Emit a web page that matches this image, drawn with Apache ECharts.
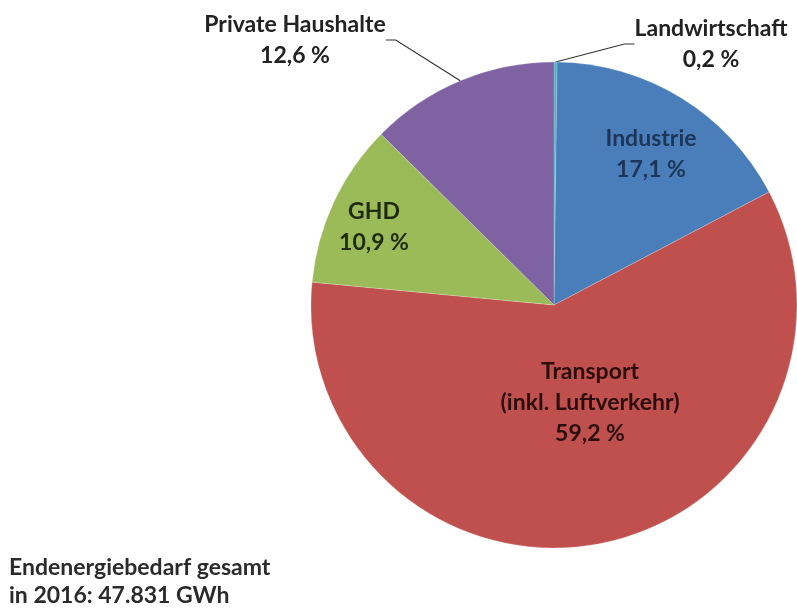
<!DOCTYPE html>
<html>
<head>
<meta charset="utf-8">
<script src="https://cdn.jsdelivr.net/npm/echarts@6/dist/echarts.min.js"></script>
<style>
  html, body { margin: 0; padding: 0; background: #fff; }
  #chart { width: 797px; height: 609px; }
</style>
</head>
<body>
<div id="chart"></div>
<script>
// Final energy demand by sector, 2016 (shares in %)
const sectors = ['Landwirtschaft', 'Industrie', 'Transport\n(inkl. Luftverkehr)', 'GHD', 'Private Haushalte'];
const shares = [0.2, 17.1, 59.2, 10.9, 12.6];
const sectorColors = ['#4BACC6', '#4A7EBB', '#C0504D', '#9BBB59', '#7F62A1'];
const labelColors = ['#222222', '#1D3557', '#2a0d0d', '#1f2a10', '#222222'];
// label block centres (px) for each sector
const labelSpots = [[711, 44], [651, 154], [590, 403], [374, 227], [295, 40]];
const totalText = 'Endenergiebedarf gesamt\nin 2016: 47.831 GWh';

const fontFam = 'Lato, "Open Sans", sans-serif';

const chart = echarts.init(document.getElementById('chart'));
chart.setOption({
  animation: false,
  backgroundColor: '#ffffff',
  title: {
    text: totalText,
    left: 4,
    top: 549,
    textStyle: {
      fontFamily: fontFam,
      fontSize: 23,
      fontWeight: 'bold',
      color: '#2b2b2b',
      lineHeight: 28
    }
  },
  series: [{
    type: 'pie',
    center: [554, 305],
    radius: [0, 243],
    startAngle: 90,
    clockwise: true,
    avoidLabelOverlap: false,
    data: sectors.map((name, i) => ({
      name: name,
      value: shares[i],
      itemStyle: { color: sectorColors[i] },
      label: {
        show: true,
        position: (i === 0 || i === 4) ? 'outside' : 'inside',
        color: labelColors[i]
      },
      labelLine: { show: i === 0 || i === 4 }
    })),
    itemStyle: { borderColor: 'rgba(255,255,255,0.35)', borderWidth: 0.6 },
    label: {
      formatter: p => p.name + '\n' + p.value.toFixed(1).replace('.', ',') + ' %',
      fontFamily: fontFam,
      fontSize: 23,
      fontWeight: 'bold',
      lineHeight: 31,
      align: 'center'
    },
    labelLine: {
      lineStyle: { color: '#333', width: 1.2 },
      length: 15,
      length2: 10
    },
    labelLayout: function (params) {
      const spot = labelSpots[params.dataIndex];
      return {
        x: spot[0],
        y: spot[1],
        align: 'center',
        verticalAlign: 'middle'
      };
    },
    emphasis: { disabled: true }
  }]
});
</script>
</body>
</html>
